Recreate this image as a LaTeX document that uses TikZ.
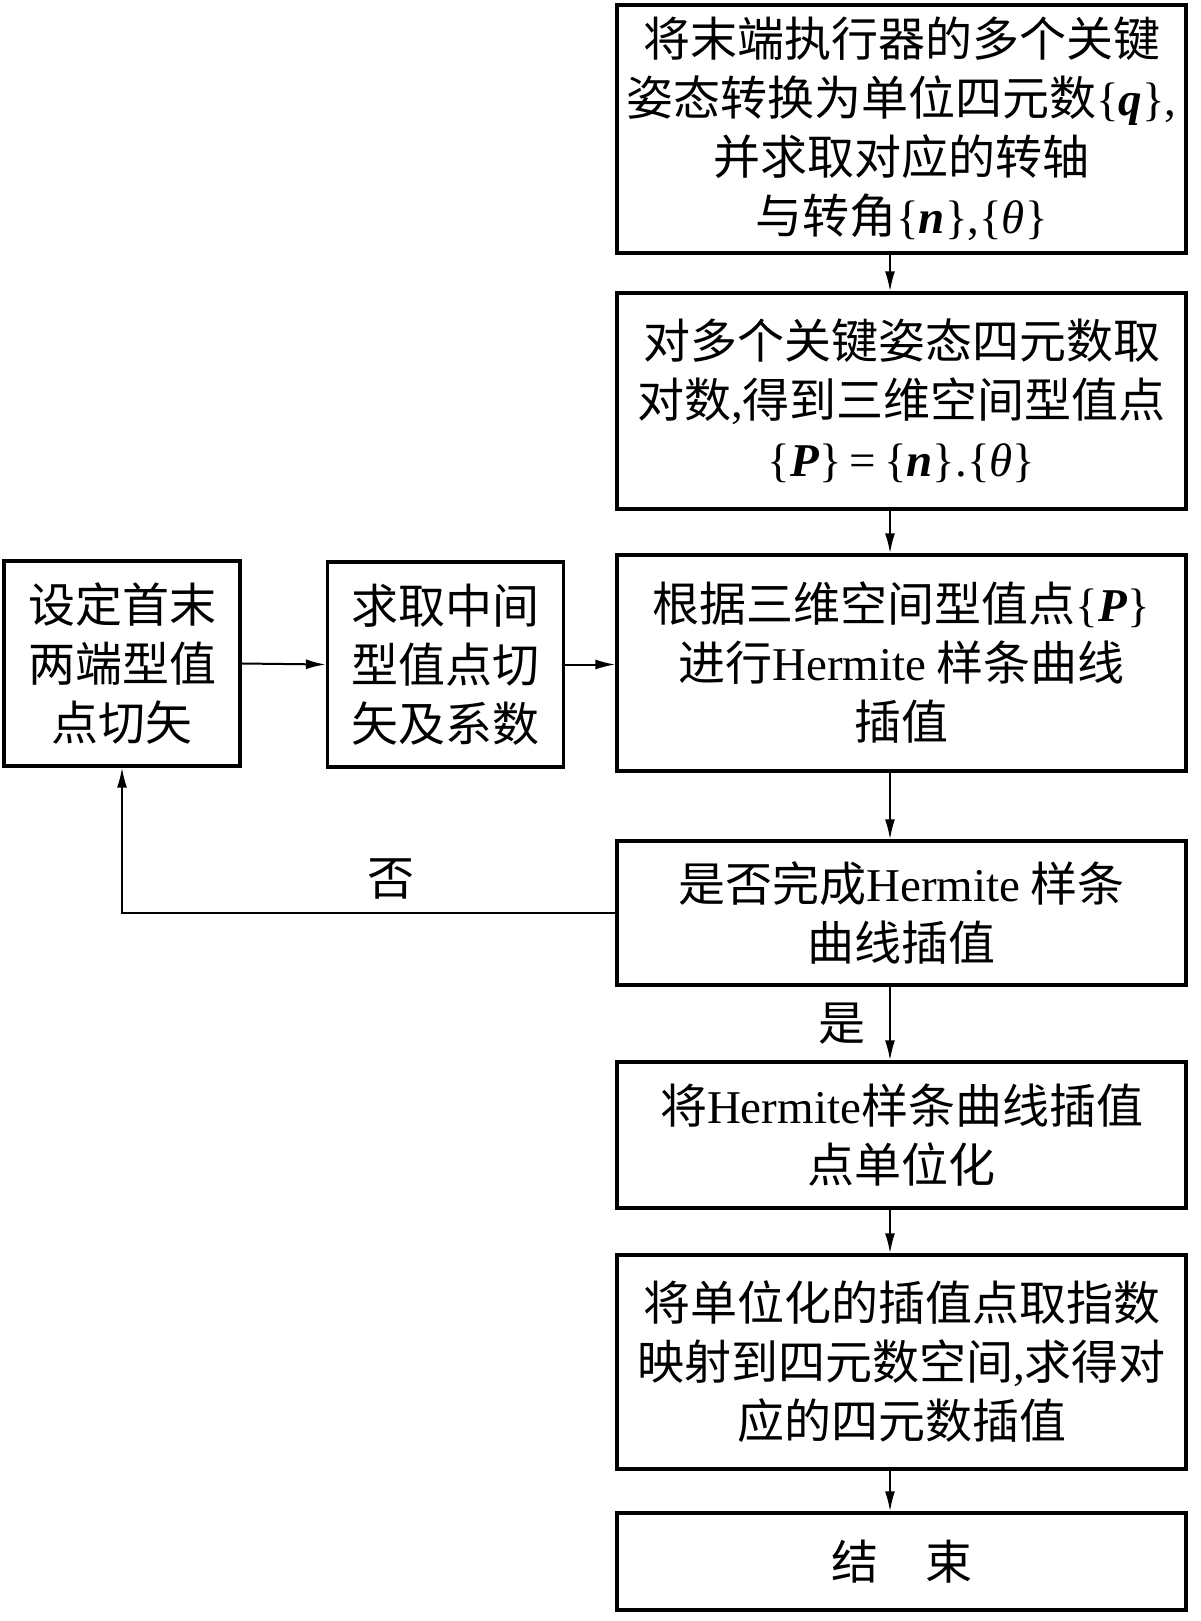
\documentclass[tikz,border=0pt]{standalone}
\usepackage{fontspec}
\setmainfont{Noto Sans CJK SC}
\newfontfamily\lat{Liberation Serif}
\usetikzlibrary{arrows.meta}
\newcommand{\bv}[1]{{\lat\{\textbf{\textit{#1}}\}}}
\newcommand{\tv}{{\lat\{\textit{θ}\}}}

\begin{document}
\begin{tikzpicture}
[x=0.5pt,y=-0.5pt,
every node/.style={font=\fontsize{23.5pt}{29.5pt}\selectfont,inner sep=0pt,align=center},
box/.style={shape=rectangle,draw,line width=1.6pt,minimum width=284.5pt},
side/.style={shape=rectangle,draw,line width=1.6pt,minimum width=118pt,minimum height=102.5pt},
link/.style={line width=1pt,-{Latex[length=10pt,width=5pt]}}]

\useasboundingbox (0,0) rectangle (1200,1621);

\node[box,minimum height=124pt] (b1) at (901.5,129) {将末端执行器的多个关键\\姿态转换为单位四元数\bv{q}{\lat,}\\并求取对应的转轴\\与转角\bv{n}{\lat,}\tv};
\node[box,minimum height=108pt] (b2) at (901.5,401) {对多个关键姿态四元数取\\对数{\lat,}得到三维空间型值点\\\bv{P}{\lat\,=\,}\bv{n}{\lat.}\tv};
\node[box,minimum height=108pt] (b3) at (901.5,663) {根据三维空间型值点\bv{P}\\进行{\lat Hermite} 样条曲线\\插值};
\node[box,minimum height=72pt] (b4) at (901.5,913) {是否完成{\lat Hermite} 样条\\曲线插值};
\node[box,minimum height=73pt] (b5) at (901.5,1135) {将{\lat Hermite}样条曲线插值\\点单位化};
\node[box,minimum height=107pt] (b6) at (901.5,1362) {将单位化的插值点取指数\\映射到四元数空间{\lat,}求得对\\应的四元数插值};
\node[box,minimum height=48.5pt] (b7) at (901.5,1561.5) {结\hspace{1em}束};

\node[side] (first) at (122,663.5) {设定首末\\两端型值\\点切矢};
\node[side] (mid) at (445.5,664.5) {求取中间\\型值点切\\矢及系数};
\node (no) at (391,879) {否};

\foreach \a/\b in {b1/b2,b2/b3,b3/b4,b5/b6,b6/b7}
	\draw[link] ([xshift=-5.75pt]\a.south) -- ([xshift=-5.75pt]\b.north);
\draw[link] ([xshift=-5.75pt]b4.south) -- node[left,xshift=-12pt] {是} ([xshift=-5.75pt]b5.north);
\draw[link] (first.east) -- (mid.west);
\draw[link] (mid.east) -- (mid.east -| b3.west);
\draw[link] (b4.west) -| (first.south);
\end{tikzpicture}
\end{document}
